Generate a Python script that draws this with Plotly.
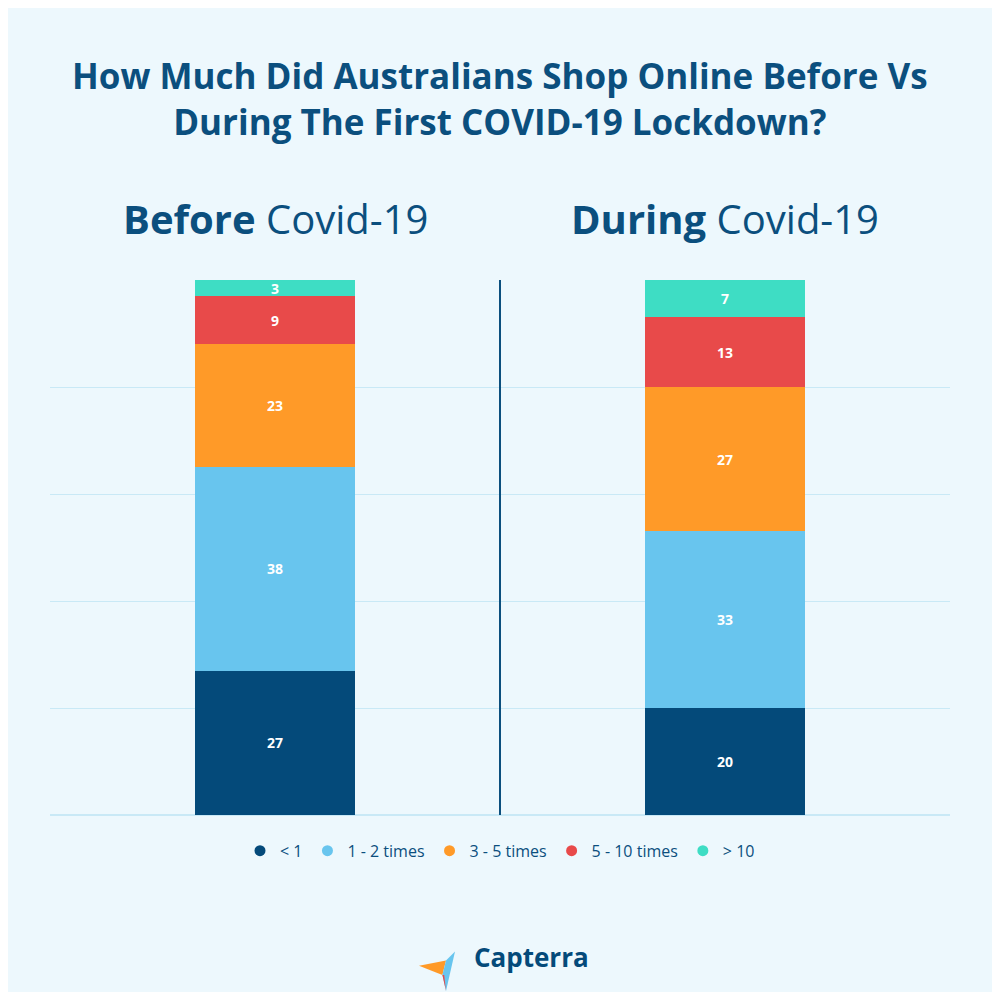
import plotly.graph_objects as go

periods = ["Before", "During"]
categories = ["< 1", "1 - 2 times", "3 - 5 times", "5 - 10 times", "> 10"]
values = {
    "< 1": [27, 20],
    "1 - 2 times": [38, 33],
    "3 - 5 times": [23, 27],
    "5 - 10 times": [9, 13],
    "> 10": [3, 7],
}
colors = ["#044A7A", "#68C5EE", "#FF9A28", "#E84A4A", "#3EDDC4"]

navy = "#0B4F7E"
fig = go.Figure()
for cat, col in zip(categories, colors):
    fig.add_trace(go.Bar(
        x=[0, 1], y=values[cat], name=cat, width=0.356, showlegend=False,
        marker=dict(color=col, line=dict(width=0)),
        text=values[cat], textposition="inside", insidetextanchor="middle",
        textangle=0, constraintext="none",
        textfont=dict(color="white", size=14, family="Open Sans"),
        texttemplate="<b>%{text}</b>",
    ))
    # circle markers for the legend
    fig.add_trace(go.Scatter(
        x=[None], y=[None], mode="markers", name=cat,
        marker=dict(color=col, size=11, symbol="circle"),
    ))

fig.add_shape(type="line", x0=0.5, x1=0.5, y0=0, y1=100, xref="x", yref="y",
              line=dict(color=navy, width=2))

fig.add_annotation(text="<b>How Much Did Australians Shop Online Before Vs<br>During The First COVID-19 Lockdown?</b>",
                   xref="paper", yref="paper", x=0.5, y=1.43, showarrow=False,
                   font=dict(size=35, color=navy, family="Open Sans"))
fig.add_annotation(text="<b>Before</b> Covid-19", x=0, xref="x", yref="paper", y=1.171,
                   showarrow=False, font=dict(size=40, color=navy, family="Open Sans"))
fig.add_annotation(text="<b>During</b> Covid-19", x=1, xref="x", yref="paper", y=1.171,
                   showarrow=False, font=dict(size=40, color=navy, family="Open Sans"))
fig.add_annotation(text="<b>Capterra</b>", xref="paper", yref="paper", x=0.535, y=-0.302,
                   showarrow=False, font=dict(size=26, color="#044A7A", family="Open Sans"))
# logo mark
fig.add_shape(type="path", xref="paper", yref="paper",
              path="M 0.41,-0.282 L 0.44,-0.272 L 0.436,-0.299 Z",
              fillcolor="#FF9A28", line=dict(width=0))
fig.add_shape(type="path", xref="paper", yref="paper",
              path="M 0.436,-0.299 L 0.44,-0.272 L 0.45,-0.255 L 0.44,-0.329 Z",
              fillcolor="#68C5EE", line=dict(width=0))
fig.add_shape(type="path", xref="paper", yref="paper",
              path="M 0.436,-0.299 L 0.44,-0.329 L 0.438,-0.299 Z",
              fillcolor="#E84A4A", line=dict(width=0))

fig.update_layout(
    barmode="stack", width=984, height=984,
    paper_bgcolor="#EDF8FD", plot_bgcolor="#EDF8FD",
    margin=dict(l=42, r=42, t=272, b=177),
    font=dict(family="Open Sans", color=navy),
    xaxis=dict(range=[-0.5, 1.5], showticklabels=False, showgrid=False, zeroline=False),
    yaxis=dict(range=[0, 100], dtick=20, showticklabels=False, gridcolor="#C9E9F6",
               zeroline=True, zerolinecolor="#C9E9F6"),
    legend=dict(orientation="h", x=0.5, xanchor="center", y=-0.035, yanchor="top",
                font=dict(size=16, color=navy), itemwidth=30, traceorder="normal"),
    showlegend=True,
)
fig.write_html("out.html")
